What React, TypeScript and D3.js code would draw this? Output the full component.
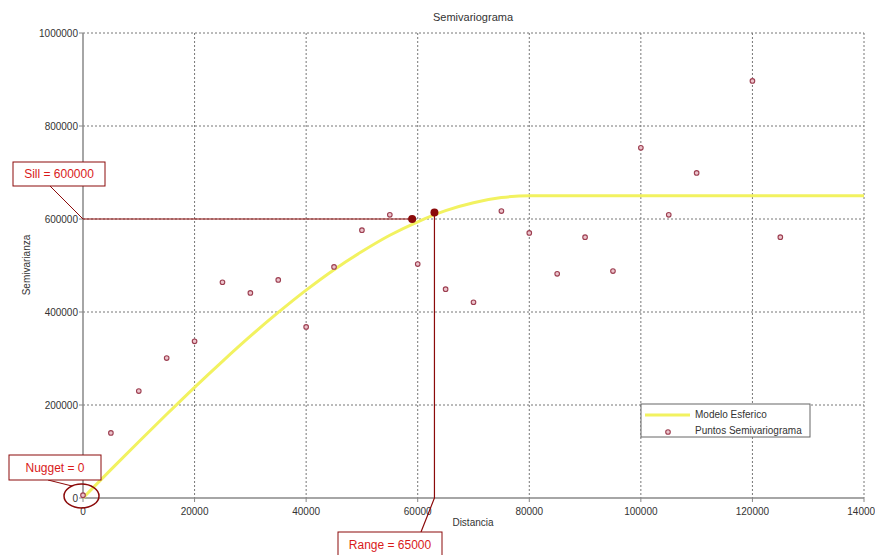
import React from 'react';
import * as d3 from 'd3';

// experimental semivariogram points (distance, semivariance)
const lagDist = [0, 5000, 10000, 15000, 20000, 25000, 30000, 35000, 40000, 45000, 50000, 55000, 60000, 65000, 70000, 75000, 80000, 85000, 90000, 95000, 100000, 105000, 110000, 120000, 125000];
const lagGamma = [6000, 140000, 230000, 301000, 337000, 464000, 441000, 469000, 368000, 497000, 576000, 609000, 503000, 449000, 421000, 617000, 570000, 482000, 561000, 488000, 753000, 609000, 699000, 897000, 561000];

// fitted spherical model
const modelDist = [0, 5000, 10000, 15000, 20000, 25000, 30000, 35000, 40000, 45000, 50000, 55000, 60000, 65000, 70000, 75000, 80000, 140000];
const modelGamma = [0, 61000, 121000, 180000, 238000, 294000, 348000, 399000, 447000, 491000, 530000, 565000, 594000, 618000, 635000, 646000, 650000, 650000];

const xTicks = [0, 20000, 40000, 60000, 80000, 100000, 120000, 140000];
const yTicks = [0, 200000, 400000, 600000, 800000, 1000000];

const sill = 600000;
const sillDist = 59000;
const rangeDist = 63000;
const rangeGamma = 614000;

const settings = {
  width: 875,
  height: 555,
  left: 83,
  right: 864,
  top: 33,
  bottom: 498
};

const font = '"Liberation Sans", Arial, sans-serif';
const darkRed = '#8b0a0a';
const textRed = '#d91a1a';
const yellow = '#f2f260';

export default function App() {
  const { width, height, left, right, top, bottom } = settings;
  const x = d3.scaleLinear().domain([0, 140000]).range([left, right]);
  const y = d3.scaleLinear().domain([0, 1000000]).range([bottom, top]);

  const model = d3.line<number>()
    .x((d, i) => x(modelDist[i]))
    .y(d => y(d))
    .curve(d3.curveMonotoneX)(modelGamma);

  return (
    <div style={{ position: 'absolute', left: 0, top: 0 }}>
      <svg width={width} height={height} style={{ display: 'block', fontFamily: font }}>
        <rect width={width} height={height} fill="#fff" />
        <text x={473} y={21} textAnchor="middle" fontSize={11} fill="#333">Semivariograma</text>

        {/* grid */}
        {xTicks.slice(1).map(t => (
          <line key={'gx' + t} x1={x(t)} x2={x(t)} y1={top} y2={bottom} stroke="#777" strokeDasharray="2,2" />
        ))}
        {yTicks.slice(1).map(t => (
          <line key={'gy' + t} x1={left} x2={right} y1={y(t)} y2={y(t)} stroke="#777" strokeDasharray="2,2" />
        ))}

        {/* axes */}
        <line x1={left} x2={left} y1={top} y2={bottom} stroke="#888" strokeWidth={1.5} />
        <line x1={left} x2={right} y1={bottom} y2={bottom} stroke="#888" strokeWidth={1.5} />
        {yTicks.map(t => (
          <g key={'ty' + t}>
            <line x1={left - 4} x2={left} y1={y(t)} y2={y(t)} stroke="#888" />
            <text x={left - 5} y={y(t) + 3.5} textAnchor="end" fontSize={10} fill="#333">{t}</text>
          </g>
        ))}
        {xTicks.map(t => (
          <g key={'tx' + t}>
            <line x1={x(t)} x2={x(t)} y1={bottom} y2={bottom + 4} stroke="#888" />
            <text x={x(t)} y={bottom + 17} textAnchor="middle" fontSize={10} fill="#333">{t}</text>
          </g>
        ))}
        <text x={473} y={526} textAnchor="middle" fontSize={10} fill="#333">Distancia</text>
        <text transform="translate(30,265) rotate(-90)" textAnchor="middle" fontSize={10} fill="#333">Semivarianza</text>

        {/* model */}
        <path d={model || ''} fill="none" stroke={yellow} strokeWidth={3} />

        {/* points */}
        {lagDist.map((d, i) => (
          <circle key={'p' + i} cx={x(d)} cy={y(lagGamma[i])} r={2.3} fill="#ecc4cc" stroke="#9c3e50" strokeWidth={1.1} />
        ))}

        {/* sill annotation */}
        <line x1={left} x2={x(sillDist)} y1={y(sill)} y2={y(sill)} stroke={darkRed} strokeWidth={1.2} />
        <circle cx={x(sillDist)} cy={y(sill)} r={4} fill={darkRed} />
        <line x1={50} y1={186} x2={left} y2={y(sill)} stroke={darkRed} strokeWidth={1} />
        <rect x={13} y={162} width={92} height={24} fill="#fff" stroke={darkRed} strokeWidth={1} />
        <text x={59} y={178} textAnchor="middle" fontSize={12} fill={textRed}>Sill = 600000</text>

        {/* range annotation */}
        <circle cx={x(rangeDist)} cy={y(rangeGamma)} r={4} fill={darkRed} />
        <polyline points={`${x(rangeDist)},${y(rangeGamma)} ${x(rangeDist)},${bottom} 421,532`} fill="none" stroke={darkRed} strokeWidth={1.2} />
        <rect x={338} y={532} width={104} height={30} fill="#fff" stroke={darkRed} strokeWidth={1} />
        <text x={390} y={549} textAnchor="middle" fontSize={12} fill={textRed}>Range = 65000</text>

        {/* nugget annotation */}
        <ellipse cx={81.5} cy={496} rx={17.5} ry={12} fill="none" stroke={darkRed} strokeWidth={1.5} />
        <line x1={48} y1={480} x2={72} y2={486} stroke={darkRed} strokeWidth={1} />
        <rect x={9} y={455} width={92} height={25} fill="#fff" stroke={darkRed} strokeWidth={1} />
        <text x={55} y={472} textAnchor="middle" fontSize={12} fill={textRed}>Nugget = 0</text>

        {/* legend */}
        <rect x={641} y={404} width={169} height={33} fill="#fff" stroke="#666" strokeWidth={1} />
        <line x1={645} x2={690} y1={415} y2={415} stroke={yellow} strokeWidth={3} />
        <text x={695} y={418} fontSize={10} fill="#333">Modelo Esferico</text>
        <circle cx={668} cy={432} r={2.3} fill="#ecc4cc" stroke="#9c3e50" strokeWidth={1.1} />
        <text x={695} y={434} fontSize={10} fill="#333">Puntos Semivariograma</text>
      </svg>
    </div>
  );
}
